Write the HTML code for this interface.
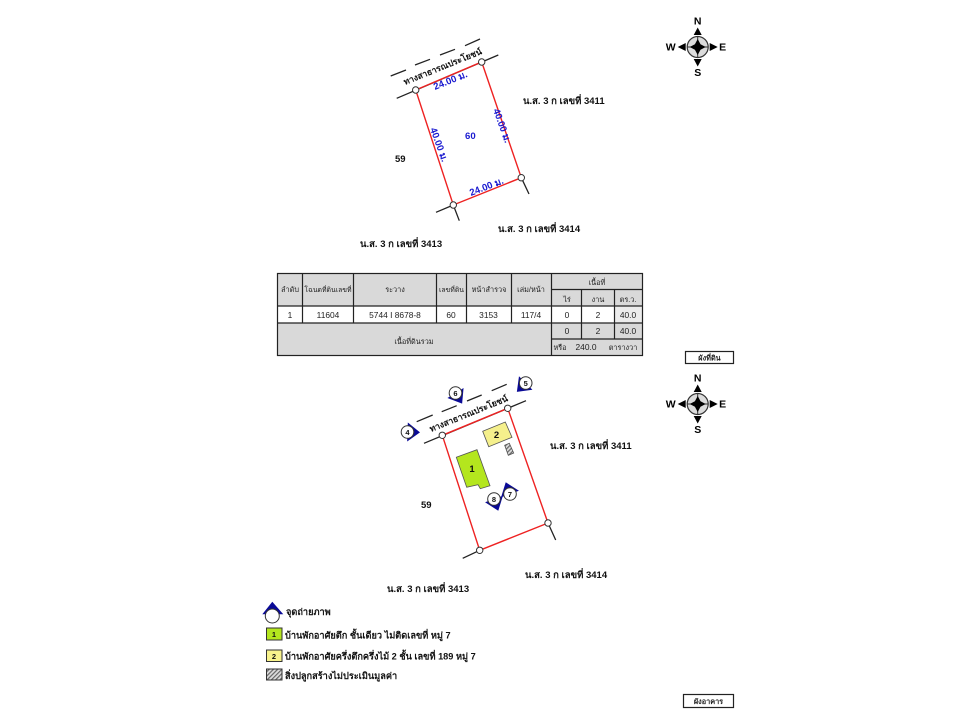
<!DOCTYPE html>
<html><head><meta charset="utf-8"><style>
html,body{margin:0;padding:0;background:#fff}
svg{display:block;filter:blur(.3px)}
text{font-family:"Liberation Sans","Noto Sans CJK SC",sans-serif}
.l{font-size:9.500px;font-weight:bold;fill:#111}
.rd{font-size:8.600px;font-weight:bold;fill:#111}
.lg{font-size:9.200px;font-weight:bold;fill:#111}
.b{font-size:9.600px;font-weight:bold;fill:#1a1ad0}
.t{font-size:7.300px;fill:#222;text-anchor:middle}
.d{font-size:8.400px;fill:#222;text-anchor:middle}
.c{font-size:9.500px;font-weight:bold;fill:#111;text-anchor:middle}
.m{font-size:7.500px;font-weight:bold;fill:#111;text-anchor:middle}
.k{stroke:#222;stroke-width:1.300;fill:none}
.r{stroke:#ee2222;stroke-width:1.400;fill:none}
.p{fill:#fff;stroke:#333;stroke-width:1}
</style></head><body>
<svg width="960" height="720" viewBox="0 0 960 720" xmlns="http://www.w3.org/2000/svg">
<defs>
<pattern id="h" width="3" height="3" patternUnits="userSpaceOnUse" patternTransform="rotate(-45)"><rect width="3" height="3" fill="#ddd"/><rect width="3" height="1.200" fill="#666"/></pattern>
<g id="compass">
<circle r="10.500" fill="#dcdcdc" stroke="#333" stroke-width="1.200"/>
<path d="M-10.500 0H10.500M0-10.500V10.500" stroke="#333"/>
<polygon points="0,-8 2.800,-2.800 8,0 2.800,2.800 0,8 -2.800,2.800 -8,0 -2.800,-2.800" fill="#000"/>
<polygon points="0,-19.500 -4,-12 4,-12"/>
<polygon points="0,19.500 -4,12 4,12"/>
<polygon points="-20,0 -12,-4 -12,4"/>
<polygon points="20,0 12,-4 12,4"/>
<text y="-22.500" text-anchor="middle" font-size="10.500" font-weight="bold">N</text>
<text y="29" text-anchor="middle" font-size="10.500" font-weight="bold">S</text>
<text x="-27" y="3.700" text-anchor="middle" font-size="10.500" font-weight="bold">W</text>
<text x="25" y="3.700" text-anchor="middle" font-size="10.500" font-weight="bold">E</text>
</g>
</defs>

<!-- Top map -->
<g class="k"><path d="M396.700 98.300L498.300 55M390.700 76L406 70M415 65L430 59.300M440 55L455 49.300M465 45.700L480 39M436 212.300L453.300 205L459.300 220.700M521.300 177.700L529 194"/></g>
<polygon class="r" points="415.700,90 481.700,62 521.300,177.700 453.300,205"/>
<g class="p"><circle cx="415.700" cy="90" r="3.200"/><circle cx="481.700" cy="62" r="3.200"/><circle cx="521.300" cy="177.700" r="3.200"/><circle cx="453.300" cy="205" r="3.200"/></g>
<text class="rd" transform="translate(405,85) rotate(-22)">ทางสาธารณประโยชน์</text>
<text class="b" transform="translate(435,90) rotate(-22)">24.00 ม.</text>
<text class="b" transform="translate(471,196) rotate(-21)">24.00 ม.</text>
<text class="b" transform="translate(430,129) rotate(70)">40.00 ม.</text>
<text class="b" transform="translate(493,110) rotate(70)">40.00 ม.</text>
<text class="b" x="465" y="139">60</text>
<text class="l" x="395" y="162">59</text>
<text class="l" x="523" y="104">น.ส. 3 ก เลขที่ 3411</text>
<text class="l" x="498" y="232">น.ส. 3 ก เลขที่ 3414</text>
<text class="l" x="360" y="247">น.ส. 3 ก เลขที่ 3413</text>
<use href="#compass" x="697.700" y="47"/>

<!-- Table -->
<rect x="277.500" y="273.500" width="365" height="82" fill="#d9d9d9"/>
<rect x="277.500" y="306" width="274" height="17" fill="#fff"/>
<rect x="551.500" y="306" width="63" height="17" fill="#fff"/>
<rect x="614.500" y="306" width="28" height="17" fill="#ececec"/>
<g stroke="#222" stroke-width="1.200" fill="none">
<rect x="277.500" y="273.500" width="365" height="82"/>
<path d="M277.500 306H642.500M277.500 323H642.500M551.500 289.500H642.500M551.500 339H642.500"/>
<path d="M302.500 273.500V323M353.500 273.500V323M436.500 273.500V323M466.500 273.500V323M511.500 273.500V323M551.500 273.500V355.500M581.500 289.500V339M614.500 289.500V339"/>
</g>
<text class="t" x="290" y="292">ลำดับ</text>
<text class="t" x="328" y="292" style="font-size:6.900px">โฉนดที่ดินเลขที่</text>
<text class="t" x="395" y="292">ระวาง</text>
<text class="t" x="451.500" y="292" style="font-size:6.900px">เลขที่ดิน</text>
<text class="t" x="489" y="292">หน้าสำรวจ</text>
<text class="t" x="531" y="292">เล่ม/หน้า</text>
<text class="t" x="597" y="285">เนื้อที่</text>
<text class="t" x="567" y="302">ไร่</text>
<text class="t" x="598" y="302">งาน</text>
<text class="t" x="628" y="302">ตร.ว.</text>
<text class="d" x="290" y="318">1</text><text class="d" x="328" y="318">11604</text><text class="d" x="395" y="318">5744 I 8678-8</text><text class="d" x="451" y="318">60</text><text class="d" x="488.500" y="318">3153</text><text class="d" x="531" y="318">117/4</text><text class="d" x="567" y="318">0</text><text class="d" x="598" y="318">2</text><text class="d" x="628" y="318">40.0</text><text class="d" x="567" y="334">0</text><text class="d" x="598" y="334">2</text><text class="d" x="628" y="334">40.0</text>
<text class="t" x="414" y="344">เนื้อที่ดินรวม</text>
<text class="t" x="560" y="350">หรือ</text>
<text class="d" x="586" y="350">240.0</text>
<text class="t" x="623" y="350">ตารางวา</text>

<rect x="685.500" y="351.500" width="48" height="12" fill="#fff" stroke="#222" stroke-width="1.200"/>
<text class="t" x="709.500" y="360.500" font-weight="bold">ผังที่ดิน</text>

<!-- Bottom map -->
<g class="k"><path d="M424 443.300L526 400.700M416.700 421.700L432.700 415M441.700 411.700L456.700 405.700M467 401L481.700 395M491.700 390.700L506.700 384.300M462.700 558.300L479.700 550.300M548 523L555.700 540"/></g>
<polygon class="r" points="442.300,435.300 507.700,408.300 548,523 479.700,550.300"/>
<g class="p"><circle cx="442.300" cy="435.300" r="3.200"/><circle cx="507.700" cy="408.300" r="3.200"/><circle cx="548" cy="523" r="3.200"/><circle cx="479.700" cy="550.300" r="3.200"/></g>
<text class="rd" transform="translate(431,432) rotate(-22)">ทางสาธารณประโยชน์</text>
<polygon points="456.300,457.300 477,449.700 490,485.700 480.300,488.700 478,484.700 466.700,487.300" fill="#b4e61e" stroke="#555" stroke-width="0.800"/>
<text class="c" x="472" y="472">1</text>
<polygon points="482.700,431.300 505.300,422 512,437.300 488.700,446.700" fill="#f5f08c" stroke="#555" stroke-width="0.800"/>
<text class="c" x="496.500" y="438">2</text>
<polygon points="504.700,445.300 509.300,443.300 513.700,453 508.300,455.300" fill="url(#h)" stroke="#555" stroke-width="0.800"/>

<g fill="#0a0a96">
<polygon points="0,-12.500 -9.500,0 9.500,0" transform="translate(407.500,432) rotate(92)"/>
<polygon points="0,-12.500 -9.500,0 9.500,0" transform="translate(525.700,383) rotate(225)"/>
<polygon points="0,-12.500 -9.500,0 9.500,0" transform="translate(455.500,393) rotate(148)"/>
<polygon points="0,-12.500 -9.500,0 9.500,0" transform="translate(510,494) rotate(-20)"/>
<polygon points="0,-12.500 -9.500,0 9.500,0" transform="translate(494,499) rotate(160)"/>
</g>
<g class="p">
<circle cx="407.500" cy="432" r="6.300"/><circle cx="525.700" cy="383" r="6.300"/><circle cx="455.500" cy="393" r="6.300"/><circle cx="510" cy="494" r="6.300"/><circle cx="494" cy="499" r="6.300"/>
</g>
<text class="m" x="407.500" y="435">4</text><text class="m" x="525.700" y="386">5</text><text class="m" x="455.500" y="396">6</text><text class="m" x="510" y="497">7</text><text class="m" x="494" y="502">8</text>

<text class="l" x="421" y="508">59</text>
<text class="l" x="550" y="449">น.ส. 3 ก เลขที่ 3411</text>
<text class="l" x="525" y="578">น.ส. 3 ก เลขที่ 3414</text>
<text class="l" x="387" y="592">น.ส. 3 ก เลขที่ 3413</text>
<use href="#compass" x="697.700" y="404"/>

<!-- Legend -->
<polygon points="272.300,601.700 262.300,614.300 283.300,614.300" fill="#0a0a96"/>
<circle cx="272.300" cy="616" r="7" fill="#fff" stroke="#333"/>
<text class="lg" x="286" y="615">จุดถ่ายภาพ</text>
<rect x="266.500" y="628" width="15.500" height="12" fill="#b4e61e" stroke="#333"/>
<text class="m" x="274" y="637">1</text>
<text class="lg" x="285" y="638.500">บ้านพักอาศัยตึก ชั้นเดียว ไม่ติดเลขที่ หมู่ 7</text>
<rect x="266.500" y="650" width="15.500" height="11.500" fill="#f8f38c" stroke="#333"/>
<text class="m" x="274" y="659">2</text>
<text class="lg" x="285" y="659.500">บ้านพักอาศัยครึ่งตึกครึ่งไม้ 2 ชั้น เลขที่ 189 หมู่ 7</text>
<rect x="266.500" y="669" width="15.500" height="11" fill="url(#h)" stroke="#333"/>
<text class="lg" x="285" y="679">สิ่งปลูกสร้างไม่ประเมินมูลค่า</text>

<rect x="683.500" y="694.500" width="50" height="13" fill="#fff" stroke="#222" stroke-width="1.200"/>
<text class="t" x="708.500" y="704" font-weight="bold">ผังอาคาร</text>
</svg>
</body></html>
